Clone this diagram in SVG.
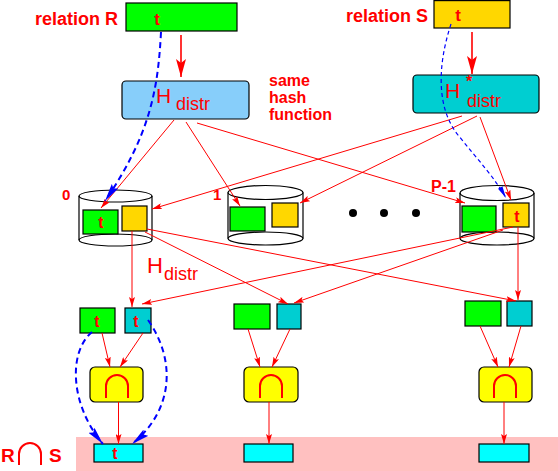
<svg xmlns="http://www.w3.org/2000/svg" width="558" height="471" viewBox="0 0 558 471">
<defs>
<style>
.lbl{font-family:"Liberation Sans",Arial,sans-serif;fill:#ff0000}
.b{font-weight:bold}
.box{stroke:#000;stroke-width:1.2}
.cyl{fill:none;stroke:#000;stroke-width:1.2}
.red{fill:none;stroke:#ff0000;stroke-width:1}
.redB{fill:none;stroke:#ff0000;stroke-width:1.6}
.blueB{fill:none;stroke:#0000ff;stroke-width:2;stroke-dasharray:6,4}
.blueS{fill:none;stroke:#0000ff;stroke-width:1.2;stroke-dasharray:4,3}
.cap{fill:none;stroke:#ff0000;stroke-width:2}
</style>
<marker id="ra" viewBox="0 0 10 6" refX="10" refY="3" markerWidth="10" markerHeight="6" orient="auto" markerUnits="userSpaceOnUse"><path d="M0,0 L10,3 L0,6 L2,3 z" fill="#ff0000"/></marker>
<marker id="raB" viewBox="0 0 18 10" refX="18" refY="5" markerWidth="18" markerHeight="10" orient="auto" markerUnits="userSpaceOnUse"><path d="M0,0 L18,5 L0,10 L4,5 z" fill="#ff0000"/></marker>
<marker id="ba" viewBox="0 0 18 8" refX="18" refY="4" markerWidth="18" markerHeight="8" orient="auto" markerUnits="userSpaceOnUse"><path d="M0,0 L18,4 L0,8 L3,4 z" fill="#0000ff"/></marker>
<marker id="bs" viewBox="0 0 12 5" refX="12" refY="2.5" markerWidth="12" markerHeight="5" orient="auto" markerUnits="userSpaceOnUse"><path d="M0,0 L12,2.5 L0,5 z" fill="#0000ff"/></marker>
</defs>
<rect x="76" y="437" width="482" height="34" fill="#ffc0c0"/>
<g id="relR">
<text class="lbl b" x="35" y="25" font-size="18">relation R</text>
<rect class="box" x="126" y="3" width="111" height="28" fill="#00ff00"/>
<text class="lbl b" x="157" y="25" font-size="17" text-anchor="middle">t</text>
</g>
<g id="relS">
<text class="lbl b" x="346" y="22" font-size="18">relation S</text>
<rect class="box" x="434" y="0.6" width="76" height="27.4" fill="#ffd700"/>
<text class="lbl b" x="458" y="21" font-size="17" text-anchor="middle">t</text>
</g>
<g id="hdistr">
<rect class="box" x="122" y="81" width="127" height="38" rx="4" fill="#87cefa"/>
<text class="lbl" x="156" y="103" font-size="21">H</text>
<text class="lbl" x="176" y="110" font-size="18">distr</text>
</g>
<g id="hdistrstar">
<rect class="box" x="413" y="75" width="126" height="38" rx="4" fill="#00ced1"/>
<text class="lbl" x="445" y="98" font-size="21">H</text>
<text class="lbl b" x="466" y="87" font-size="16">*</text>
<text class="lbl" x="467" y="107" font-size="18">distr</text>
</g>
<g id="samehash">
<text class="lbl b" x="269" y="86" font-size="16">same</text>
<text class="lbl b" x="269" y="103" font-size="16">hash</text>
<text class="lbl b" x="269" y="120" font-size="16">function</text>
</g>
<g id="cyl0">
<ellipse class="cyl" cx="115.5" cy="196" rx="36.5" ry="6"/>
<ellipse class="cyl" cx="115.5" cy="240" rx="36.5" ry="6"/>
<path class="cyl" d="M79,196 V240 M152,196 V240"/>
<rect class="box" x="83" y="210" width="35" height="24" fill="#00ff00"/>
<rect class="box" x="122" y="206" width="25" height="25" fill="#ffd700"/>
<text class="lbl b" x="101" y="228" font-size="16" text-anchor="middle">t</text>
<text class="lbl b" x="62" y="200" font-size="15">0</text>
</g>
<g id="cyl1">
<ellipse class="cyl" cx="265.5" cy="192.5" rx="37.5" ry="7"/>
<ellipse class="cyl" cx="265.5" cy="238.5" rx="37.5" ry="6.5"/>
<path class="cyl" d="M228,192.5 V238.5 M303,192.5 V238.5"/>
<rect class="box" x="230" y="207" width="35" height="24" fill="#00ff00"/>
<rect class="box" x="272" y="203" width="26" height="24" fill="#ffd700"/>
<text class="lbl b" x="213" y="200" font-size="15">1</text>
</g>
<g id="dots">
<circle cx="353" cy="213" r="4"/>
<circle cx="384" cy="213" r="4"/>
<circle cx="416" cy="213" r="4"/>
</g>
<g id="cylP">
<ellipse class="cyl" cx="497" cy="193" rx="37" ry="7.5"/>
<ellipse class="cyl" cx="497" cy="238.5" rx="37" ry="6.5"/>
<path class="cyl" d="M460,193 V238.5 M534,193 V238.5"/>
<rect class="box" x="462" y="206" width="34" height="26" fill="#00ff00"/>
<rect class="box" x="503" y="203" width="26" height="24" fill="#ffd700"/>
<text class="lbl b" x="517" y="222" font-size="16" text-anchor="middle">t</text>
<text class="lbl b" x="431" y="192" font-size="16">P-1</text>
</g>
<text class="lbl" x="147" y="273" font-size="22">H</text>
<text class="lbl" x="164" y="280" font-size="18">distr</text>
<g id="pair0">
<rect class="box" x="80" y="308" width="35" height="25" fill="#00ff00"/>
<rect class="box" x="125" y="308" width="26" height="25" fill="#00ced1"/>
<text class="lbl b" x="97" y="327" font-size="16" text-anchor="middle">t</text>
<text class="lbl b" x="136" y="327" font-size="16" text-anchor="middle">t</text>
</g>
<g id="pair1">
<rect class="box" x="234" y="304" width="36" height="25" fill="#00ff00"/>
<rect class="box" x="277" y="304" width="24" height="25" fill="#00ced1"/>
</g>
<g id="pair2">
<rect class="box" x="465" y="301" width="36" height="25" fill="#00ff00"/>
<rect class="box" x="507" y="301" width="25" height="25" fill="#00ced1"/>
</g>
<g id="join0">
<rect class="box" x="90" y="367" width="53" height="35" rx="5" fill="#ffff00"/>
<path class="cap" d="M106,398 V386 A11,11 0 0 1 128,386 V398"/>
</g>
<g id="join1">
<rect class="box" x="244" y="367" width="54" height="35" rx="5" fill="#ffff00"/>
<path class="cap" d="M260,398 V386 A11,11 0 0 1 282,386 V398"/>
</g>
<g id="join2">
<rect class="box" x="479" y="367" width="53" height="35" rx="5" fill="#ffff00"/>
<path class="cap" d="M494,398 V386 A11,11 0 0 1 516,386 V398"/>
</g>
<g id="res0">
<rect class="box" x="94" y="444" width="49" height="18" fill="#00ffff"/>
<text class="lbl b" x="115" y="459" font-size="16" text-anchor="middle">t</text>
</g>
<g id="res1"><rect class="box" x="244" y="444" width="49" height="18" fill="#00ffff"/></g>
<g id="res2"><rect class="box" x="479" y="444" width="50" height="18" fill="#00ffff"/></g>
<g id="rs">
<text class="lbl b" x="1" y="462" font-size="19">R</text>
<path class="cap" d="M19,465 V454 A11,11 0 0 1 41,454 V465"/>
<text class="lbl b" x="49" y="462" font-size="19">S</text>
</g>
<g id="connectors">
<path class="redB" d="M181,35 V77" marker-end="url(#raB)"/>
<path class="redB" d="M472,32 V74" marker-end="url(#raB)"/>
<path class="red" d="M174,120 L101,208" marker-end="url(#ra)"/>
<path class="red" d="M186,122 L240,206" marker-end="url(#ra)"/>
<path class="red" d="M197,123 L465,203" marker-end="url(#ra)"/>
<path class="red" d="M462,116 L152,209" marker-end="url(#ra)"/>
<path class="red" d="M477,116 L300,203" marker-end="url(#ra)"/>
<path class="red" d="M480,117 L511,200" marker-end="url(#ra)"/>
<path class="red" d="M132,231 V307" marker-end="url(#ra)"/>
<path class="red" d="M145,232 L288,304" marker-end="url(#ra)"/>
<path class="red" d="M147,229 L516,301" marker-end="url(#ra)"/>
<path class="red" d="M513,227 L142,304" marker-end="url(#ra)"/>
<path class="red" d="M503,230 L294,303" marker-end="url(#ra)"/>
<path class="red" d="M518,227 V300" marker-end="url(#ra)"/>
<path class="red" d="M102,333 L110,367" marker-end="url(#ra)"/>
<path class="red" d="M143,333 L120,367" marker-end="url(#ra)"/>
<path class="red" d="M248,329 L260,367" marker-end="url(#ra)"/>
<path class="red" d="M290,329 L272,367" marker-end="url(#ra)"/>
<path class="red" d="M480,326 L498,367" marker-end="url(#ra)"/>
<path class="red" d="M521,326 L509,367" marker-end="url(#ra)"/>
<path class="red" d="M118.5,402 V444" marker-end="url(#ra)"/>
<path class="red" d="M269,402 V444" marker-end="url(#ra)"/>
<path class="red" d="M504,402 V444" marker-end="url(#ra)"/>
<path class="blueB" d="M161,32 C158,90 150,135 105,201" marker-end="url(#ba)"/>
<path class="blueS" d="M451,24 C436,70 438,110 458,135 C478,160 495,178 506,198" marker-end="url(#bs)"/>
<path class="blueB" d="M92,332 C68,352 70,405 103,444" marker-end="url(#ba)"/>
<path class="blueB" d="M148,320 C176,360 174,410 132,444" marker-end="url(#ba)"/>
</g>
</svg>
